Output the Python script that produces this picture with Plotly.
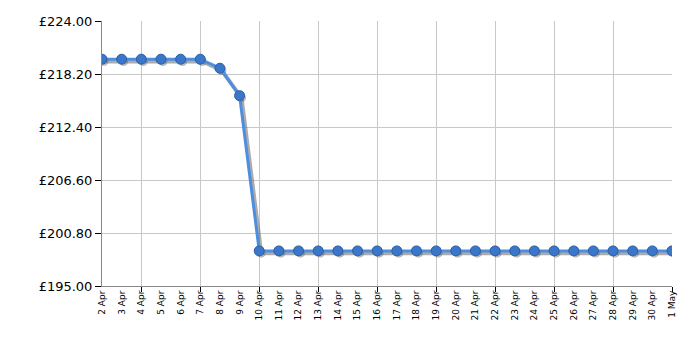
import plotly.graph_objects as go

dates = ["2 Apr", "3 Apr", "4 Apr", "5 Apr", "6 Apr", "7 Apr", "8 Apr", "9 Apr", "10 Apr",
         "11 Apr", "12 Apr", "13 Apr", "14 Apr", "15 Apr", "16 Apr", "17 Apr", "18 Apr",
         "19 Apr", "20 Apr", "21 Apr", "22 Apr", "23 Apr", "24 Apr", "25 Apr", "26 Apr",
         "27 Apr", "28 Apr", "29 Apr", "30 Apr", "1 May"]
prices = [219.82, 219.82, 219.82, 219.82, 219.82, 219.82, 218.83, 215.83, 198.84,
          198.84, 198.84, 198.84, 198.84, 198.84, 198.84, 198.84, 198.84,
          198.84, 198.84, 198.84, 198.84, 198.84, 198.84, 198.84, 198.84,
          198.84, 198.84, 198.84, 198.84, 198.84]
y_ticks = [195.0, 200.8, 206.6, 212.4, 218.2, 224.0]
y_labels = ["£195.00", "£200.80", "£206.60", "£212.40", "£218.20", "£224.00"]

xi = list(range(len(dates)))
grid_x = [i for i in xi if i % 3 == 2] + [xi[-1]]

fig = go.Figure()
# shadow
fig.add_trace(go.Scatter(
    x=[v + 0.1 for v in xi], y=[p - 0.25 for p in prices], mode="lines+markers",
    line=dict(color="rgba(90,90,90,0.5)", width=4),
    marker=dict(size=9, color="rgba(90,90,90,0.4)", line=dict(width=0)),
    hoverinfo="skip", showlegend=False))
fig.add_trace(go.Scatter(
    x=xi, y=prices, mode="lines+markers",
    line=dict(color="#4d8ee0", width=3),
    marker=dict(size=10, color="#3a77c9", line=dict(color="#2a5ea8", width=1)),
    showlegend=False))

fig.update_layout(
    width=700, height=350,
    margin=dict(l=102, r=28, t=21, b=64),
    paper_bgcolor="white", plot_bgcolor="white",
    font=dict(family="DejaVu Sans", color="#000000"),
    xaxis=dict(
        range=[0, len(dates) - 1], tickmode="array", tickvals=xi, ticktext=dates,
        tickangle=-90, tickfont=dict(size=9), ticks="", showgrid=False,
        showline=True, linecolor="#888888", linewidth=1, zeroline=False,
        minor=dict(tickmode="array", tickvals=grid_x, showgrid=True,
                   gridcolor="#c8c8c8", gridwidth=1, ticks="outside",
                   ticklen=5, tickcolor="#000000"),
    ),
    yaxis=dict(
        range=[195, 224], tickmode="array", tickvals=y_ticks, ticktext=y_labels,
        tickfont=dict(size=13), ticks="outside", ticklen=6, tickcolor="#000000",
        showgrid=True, gridcolor="#c8c8c8", gridwidth=1,
        showline=True, linecolor="#888888", linewidth=1, zeroline=False,
    ),
)

fig.write_html("out.html")
